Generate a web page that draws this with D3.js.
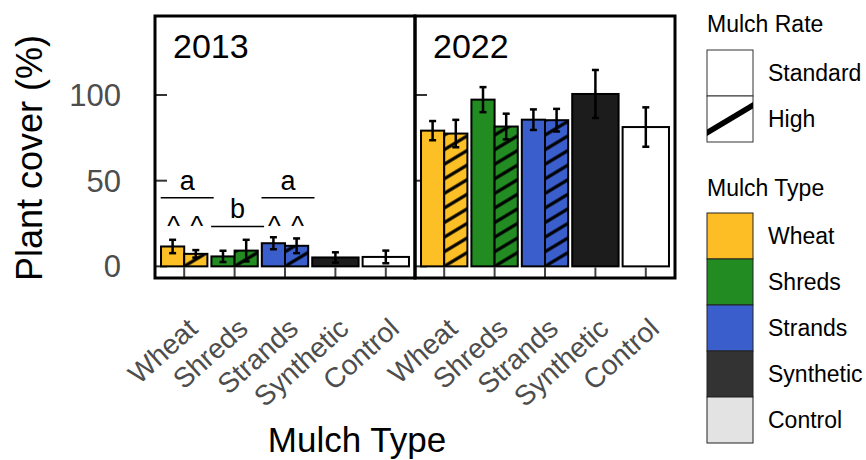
<!DOCTYPE html>
<html lang="en">
<head>
<meta charset="utf-8">
<script src="https://d3js.org/d3.v7.min.js"></script>
<style>
  body { margin: 0; background: #fff; }
  text { font-family: "Liberation Sans", Arial, Helvetica, sans-serif; }
</style>
</head>
<body>
<script>
// ---- data ----
const years = ["2013", "2022"];
const types = ["Wheat", "Shreds", "Strands", "Synthetic", "Control"];
const rates = ["Standard", "High"];

const std2013 = [11.6, 5.8, 13.5, 5.2, 5.5];
const stdSe2013 = [3.9, 3.3, 3.5, 3.0, 3.7];
const high2013 = [7.3, 9.2, 12.0, null, null];
const highSe2013 = [2.2, 6.3, 4.3, null, null];

const std2022 = [79.2, 97.3, 85.6, 100.6, 81.3];
const stdSe2022 = [5.6, 7.3, 6.0, 14.0, 11.5];
const high2022 = [77.5, 81.6, 85.3, null, null];
const highSe2022 = [8.0, 7.5, 6.6, null, null];

const letterTypes = ["Wheat", "Shreds", "Strands"];
const letters = ["a", "b", "a"];
const letterLevels = [40, 23.3, 40];
const caretTypes = ["Wheat", "Strands"];

const yTicks = [0, 50, 100];

const fills = { Wheat: "#fdbf26", Shreds: "#228b22", Strands: "#3a5fcd", Synthetic: "#1c1c1c", Control: "#ffffff" };
const keyFills = { Wheat: "#fdbd24", Shreds: "#228b22", Strands: "#3a5fcd", Synthetic: "#333333", Control: "#e3e3e3" };

// build rows
const byYear = {
  "2013": { std: std2013, stdSe: stdSe2013, high: high2013, highSe: highSe2013 },
  "2022": { std: std2022, stdSe: stdSe2022, high: high2022, highSe: highSe2022 }
};
const rows = [];
years.forEach(yr => {
  const s = byYear[yr];
  types.forEach((t, i) => {
    const paired = s.high[i] != null;
    rows.push({ year: yr, type: t, rate: "Standard", value: s.std[i], se: s.stdSe[i], paired: paired });
    if (paired) rows.push({ year: yr, type: t, rate: "High", value: s.high[i], se: s.highSe[i], paired: true });
  });
});

const W = 866, H = 460;
const panelTop = 16, panelBottom = 278;

const svg = d3.select("body").append("svg")
  .attr("width", W).attr("height", H);
const defs = svg.append("defs");

const panel = d3.scaleBand().domain(years).range([155, 675]);
const x = d3.scaleBand().domain(types).range([4, panel.bandwidth() - 4]);
const y = d3.scaleLinear().domain([-6.5, 146.1]).range([277.5, 16]);

const groupW = x.bandwidth() * 0.92;

function barX(d) {
  const c = panel(d.year) + x(d.type) + x.bandwidth() / 2;
  if (!d.paired) return c - groupW / 2;
  return d.rate === "Standard" ? c - groupW / 2 : c;
}
function barW(d) { return d.paired ? groupW / 2 : groupW; }
function barC(d) { return barX(d) + barW(d) / 2; }

// hatch patterns, one per hatched bar so the stripes start at the bar corner
rows.filter(d => d.rate === "High").forEach((d, i) => {
  d.pid = "hatch" + i;
  const p = defs.append("pattern")
    .attr("id", d.pid)
    .attr("patternUnits", "userSpaceOnUse")
    .attr("width", 20).attr("height", 12.5)
    .attr("patternTransform", `translate(${barX(d)},${y(0)}) rotate(-31)`);
  p.append("rect").attr("width", 20).attr("height", 12.5).attr("fill", fills[d.type]);
  p.append("line").attr("x1", 0).attr("x2", 20).attr("y1", 0).attr("y2", 0)
    .attr("stroke", "#000").attr("stroke-width", 3.2);
  p.append("line").attr("x1", 0).attr("x2", 20).attr("y1", 12.5).attr("y2", 12.5)
    .attr("stroke", "#000").attr("stroke-width", 3.2);
});

const plot = svg.append("g");

// inward y ticks
years.forEach(yr => {
  plot.selectAll(null).data(yTicks).enter().append("line")
    .attr("x1", panel(yr)).attr("x2", panel(yr) + 12)
    .attr("y1", d => y(d)).attr("y2", d => y(d))
    .attr("stroke", "#333").attr("stroke-width", 2);
});

// bars
plot.selectAll("rect.bar").data(rows).enter().append("rect")
  .attr("class", "bar")
  .attr("x", barX)
  .attr("width", barW)
  .attr("y", d => y(d.value))
  .attr("height", d => y(0) - y(d.value))
  .attr("fill", d => d.rate === "High" ? `url(#${d.pid})` : fills[d.type])
  .attr("stroke", "#000").attr("stroke-width", 2);

// error bars
const eb = plot.selectAll("g.eb").data(rows).enter().append("g")
  .attr("stroke", "#000").attr("stroke-width", 2.5);
eb.append("line")
  .attr("x1", barC).attr("x2", barC)
  .attr("y1", d => y(d.value - d.se)).attr("y2", d => y(d.value + d.se));
eb.append("line")
  .attr("x1", d => barC(d) - 3.5).attr("x2", d => barC(d) + 3.5)
  .attr("y1", d => y(d.value + d.se)).attr("y2", d => y(d.value + d.se));
eb.append("line")
  .attr("x1", d => barC(d) - 3.5).attr("x2", d => barC(d) + 3.5)
  .attr("y1", d => y(d.value - d.se)).attr("y2", d => y(d.value - d.se));

// x ticks (inward from panel bottom)
years.forEach(yr => {
  plot.selectAll(null).data(types).enter().append("line")
    .attr("x1", d => panel(yr) + x(d) + x.bandwidth() / 2)
    .attr("x2", d => panel(yr) + x(d) + x.bandwidth() / 2)
    .attr("y1", y(0) + 1).attr("y2", panelBottom)
    .attr("stroke", "#444").attr("stroke-width", 2);
});

// significance letters (2013)
const lt = plot.selectAll("g.letter").data(letterTypes).enter().append("g");
lt.append("line")
  .attr("x1", d => panel("2013") + x(d) + x.bandwidth() / 2 + 3 - 26.5)
  .attr("x2", d => panel("2013") + x(d) + x.bandwidth() / 2 + 3 + 26.5)
  .attr("y1", (d, i) => y(letterLevels[i])).attr("y2", (d, i) => y(letterLevels[i]))
  .attr("stroke", "#000").attr("stroke-width", 1.6);
lt.append("text")
  .attr("x", d => panel("2013") + x(d) + x.bandwidth() / 2 + 3)
  .attr("y", (d, i) => y(letterLevels[i]) - 8)
  .attr("text-anchor", "middle").attr("font-size", 27)
  .text((d, i) => letters[i]);

// carets over the wheat and strands bars in 2013
plot.selectAll("text.caret")
  .data(rows.filter(d => d.year === "2013" && caretTypes.includes(d.type)))
  .enter().append("text")
  .attr("class", "caret")
  .attr("x", d => barC(d) + 1)
  .attr("y", y(18.5))
  .attr("text-anchor", "middle").attr("font-size", 27)
  .text("^");

// panel labels
plot.selectAll("text.yr").data(years).enter().append("text")
  .attr("x", d => panel(d) + 18).attr("y", 58)
  .attr("font-size", 34).text(d => d);

// panel frames
plot.selectAll("rect.frame").data(years).enter().append("rect")
  .attr("x", d => panel(d)).attr("y", panelTop)
  .attr("width", panel.bandwidth()).attr("height", panelBottom - panelTop)
  .attr("fill", "none").attr("stroke", "#000").attr("stroke-width", 3);

// y tick labels
svg.selectAll("text.ytl").data(yTicks).enter().append("text")
  .attr("x", 121).attr("y", d => y(d) + 11)
  .attr("text-anchor", "end").attr("font-size", 31).attr("fill", "#4d4d4d")
  .text(d => d);

// x tick labels
years.forEach(yr => {
  svg.selectAll(null).data(types).enter().append("text")
    .attr("transform", d => `translate(${panel(yr) + x(d) + x.bandwidth() / 2 + 15},${331}) rotate(-42)`)
    .attr("text-anchor", "end").attr("font-size", 28).attr("fill", "#4d4d4d")
    .text(d => d);
});

// axis titles
svg.append("text")
  .attr("transform", "translate(42,158) rotate(-90)")
  .attr("text-anchor", "middle").attr("font-size", 36)
  .text("Plant cover (%)");
svg.append("text")
  .attr("x", 357).attr("y", 452)
  .attr("text-anchor", "middle").attr("font-size", 35)
  .text("Mulch Type");

// legends
const lg = svg.append("g");
const keyX = 707, keyS = 46, labX = 768;
lg.append("text").attr("x", keyX).attr("y", 32).attr("font-size", 23).text("Mulch Rate");
const rk = lg.selectAll("g.rk").data(rates).enter().append("g")
  .attr("transform", (d, i) => `translate(${keyX},${50 + i * keyS})`);
rk.append("clipPath").attr("id", (d, i) => "kc" + i)
  .append("rect").attr("width", keyS).attr("height", keyS);
rk.append("rect").attr("width", keyS).attr("height", keyS)
  .attr("fill", "#fff").attr("stroke", "#333").attr("stroke-width", 1);
rk.filter(d => d === "High").append("line")
  .attr("clip-path", "url(#kc1)")
  .attr("x1", -2).attr("y1", 38).attr("x2", keyS + 2).attr("y2", 8)
  .attr("stroke", "#000").attr("stroke-width", 5.5);
rk.append("text").attr("x", labX - keyX).attr("y", keyS / 2 + 8)
  .attr("font-size", 23).text(d => d);

lg.append("text").attr("x", keyX).attr("y", 196).attr("font-size", 23).text("Mulch Type");
const tk = lg.selectAll("g.tk").data(types).enter().append("g")
  .attr("transform", (d, i) => `translate(${keyX},${213 + i * keyS})`);
tk.append("rect").attr("width", keyS).attr("height", keyS)
  .attr("fill", d => keyFills[d]).attr("stroke", "#222").attr("stroke-width", 1);
tk.append("text").attr("x", labX - keyX).attr("y", keyS / 2 + 8)
  .attr("font-size", 23).text(d => d);
</script>
</body>
</html>
